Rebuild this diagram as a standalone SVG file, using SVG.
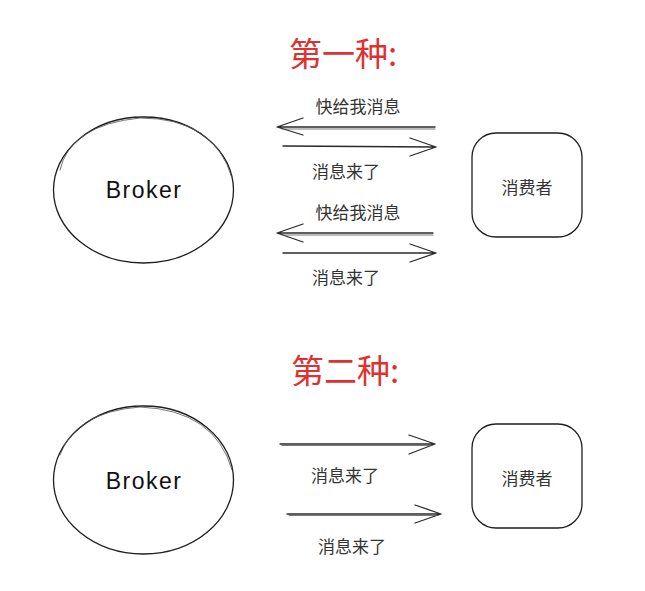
<svg xmlns="http://www.w3.org/2000/svg" width="645" height="591" viewBox="0 0 645 591">
<style>
.shape{fill:#fff;stroke:#1e1e1e;stroke-width:1.3}
.ln{fill:none;stroke:#2a2a2a;stroke-width:1.3;stroke-linecap:round;stroke-linejoin:round}
.ln2{fill:none;stroke:#555;stroke-width:0.8;stroke-linecap:round}
.lbl{font-family:"Noto Sans CJK SC","Noto Sans",sans-serif;font-size:17px;fill:#333;text-anchor:middle}
.title{font-family:"Noto Sans CJK SC",sans-serif;font-size:33px;fill:#e03131;text-anchor:middle}
.brk{font-family:"Liberation Sans","DejaVu Sans",sans-serif;font-size:23px;fill:#111;text-anchor:middle;letter-spacing:1.5px}
</style>
<rect width="645" height="591" fill="#fff"/>
<text class="title" x="343" y="66">第一种:</text>
<text class="title" x="345" y="383">第二种:</text>
<g id="broker1">
<ellipse class="shape" cx="143.5" cy="190" rx="90" ry="73"/>
<path class="ln2" d="M60 170 Q70 125 140 118 Q215 118 232 178"/>
<text class="brk" x="144" y="198">Broker</text>
</g>
<g id="consumer1">
<rect class="shape" x="472" y="133" width="110" height="104" rx="24"/>
<text class="lbl" x="527" y="194">消费者</text>
</g>
<g id="broker2">
<ellipse class="shape" cx="143.5" cy="480" rx="90" ry="74"/>
<path class="ln2" d="M60 455 Q75 412 140 407 Q215 410 232 470"/>
<text class="brk" x="144" y="489">Broker</text>
</g>
<g id="consumer2">
<rect class="shape" x="472" y="424" width="110" height="104" rx="24"/>
<text class="lbl" x="527" y="485">消费者</text>
</g>
<g id="connectors">
<path class="ln" d="M435 127 L278 127 M303 118 L277 127 L303 135"/>
<path class="ln2" d="M435 129 L282 129"/>
<path class="ln" d="M283 146 L436 147 M410 138 L436 147 L410 156"/>
<path class="ln" d="M433 233 L278 233 M303 224 L277 233 L303 242"/>
<path class="ln2" d="M433 235 L282 235"/>
<path class="ln" d="M283 253 L436 253 M410 244 L436 253 L410 262"/>
<path class="ln" d="M280 444 L435 444 M409 435 L435 444 L409 454"/>
<path class="ln2" d="M282 445.5 L432 445.5"/>
<path class="ln" d="M287 514 L441 514 M415 505 L441 514 L415 523"/>
<path class="ln2" d="M289 515.5 L438 515.5"/>
</g>
<text class="lbl" x="358" y="113">快给我消息</text>
<text class="lbl" x="346" y="178">消息来了</text>
<text class="lbl" x="358" y="219">快给我消息</text>
<text class="lbl" x="346" y="284">消息来了</text>
<text class="lbl" x="345" y="482">消息来了</text>
<text class="lbl" x="352" y="553">消息来了</text>
</svg>
